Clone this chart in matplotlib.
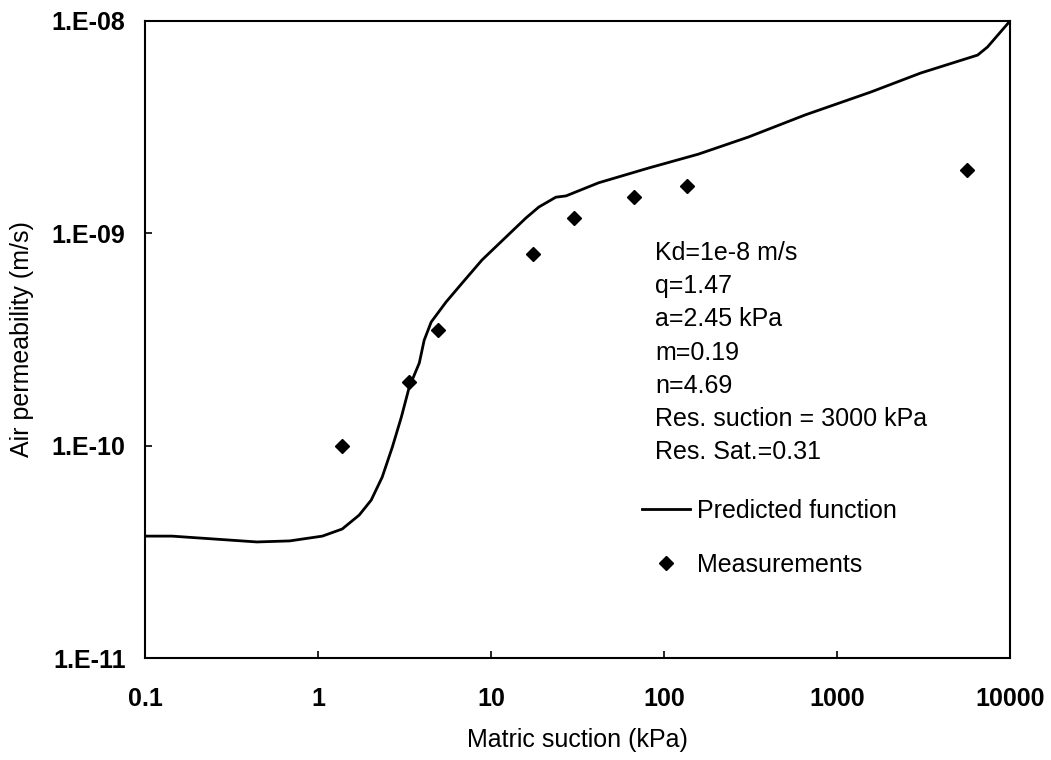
import matplotlib.pyplot as plt
from matplotlib.ticker import NullLocator

plt.rcParams['font.family'] = ['Liberation Sans', 'DejaVu Sans']

# Predicted function
suction_pred = [0.1, 0.143, 0.443, 0.686, 1.06, 1.38, 1.73, 2.03, 2.35, 2.69,
                3.03, 3.37, 3.85, 4.11, 4.51, 5.50, 6.81, 8.87, 15.9, 18.9,
                23.7, 27.1, 41.9, 81.4, 158, 307, 654, 1570, 3050, 6500,
                7410, 10000]
perm_pred = [3.75e-11, 3.75e-11, 3.52e-11, 3.56e-11, 3.75e-11, 4.05e-11,
             4.71e-11, 5.54e-11, 7.11e-11, 9.85e-11, 1.36e-10, 1.89e-10,
             2.45e-10, 3.14e-10, 3.82e-10, 4.75e-10, 5.83e-10, 7.49e-10,
             1.18e-09, 1.33e-09, 1.48e-09, 1.50e-09, 1.73e-09, 2.03e-09,
             2.36e-09, 2.84e-09, 3.61e-09, 4.63e-09, 5.69e-09, 6.91e-09,
             7.54e-09, 1.0e-08]

# Measurements
suction_meas = [1.37, 3.37, 4.95, 17.5, 30.1, 66.7, 135, 5610]
perm_meas = [1.0e-10, 2.0e-10, 3.5e-10, 8.0e-10, 1.18e-09, 1.48e-09,
             1.67e-09, 1.99e-09]

x_ticks = [0.1, 1, 10, 100, 1000, 10000]
x_labels = ['0.1', '1', '10', '100', '1000', '10000']
y_ticks = [1e-11, 1e-10, 1e-9, 1e-8]
y_labels = ['1.E-11', '1.E-10', '1.E-09', '1.E-08']

params = ['Kd=1e-8 m/s', 'q=1.47', 'a=2.45 kPa', 'm=0.19', 'n=4.69',
          'Res. suction = 3000 kPa', 'Res. Sat.=0.31']

fig = plt.figure(figsize=(10.51, 7.6), dpi=100)
ax = fig.add_axes([145 / 1051, 102 / 760, 865 / 1051, 637 / 760])

ax.plot(suction_pred, perm_pred, color='black', lw=2.0,
        label='Predicted function')
ax.plot(suction_meas, perm_meas, ls='none', marker='D', ms=7,
        color='black', label='Measurements')

ax.set_xscale('log')
ax.set_yscale('log')
ax.set_xlim(0.1, 10000)
ax.set_ylim(1e-11, 1e-8)
ax.set_xticks(x_ticks)
ax.set_xticklabels(x_labels, fontweight='bold')
ax.set_yticks(y_ticks)
ax.set_yticklabels(y_labels, fontweight='bold')
ax.xaxis.set_minor_locator(NullLocator())
ax.yaxis.set_minor_locator(NullLocator())
ax.tick_params(axis='both', direction='in', length=5, width=1.2,
               labelsize=18)
ax.tick_params(axis='x', pad=21)
ax.tick_params(axis='y', pad=14)
for s in ax.spines.values():
    s.set_linewidth(1.5)

ax.set_xlabel('Matric suction (kPa)', fontsize=18, labelpad=12)
ax.set_ylabel('Air permeability (m/s)', fontsize=18, labelpad=13)

# parameter block
for i, txt in enumerate(params):
    y_px = 253 + 33.2 * i
    ax.text((655 - 145) / 865, (658 - y_px) / 637, txt, fontsize=18,
            ha='left', va='center', transform=ax.transAxes)

ax.legend(loc='upper left', bbox_to_anchor=((642 - 145) / 865, (658 - 499) / 637),
          frameon=False, fontsize=18, borderpad=0, borderaxespad=0,
          handlelength=1.9, handletextpad=0.3, labelspacing=1.2)

fig.savefig('out.png', dpi=100)
